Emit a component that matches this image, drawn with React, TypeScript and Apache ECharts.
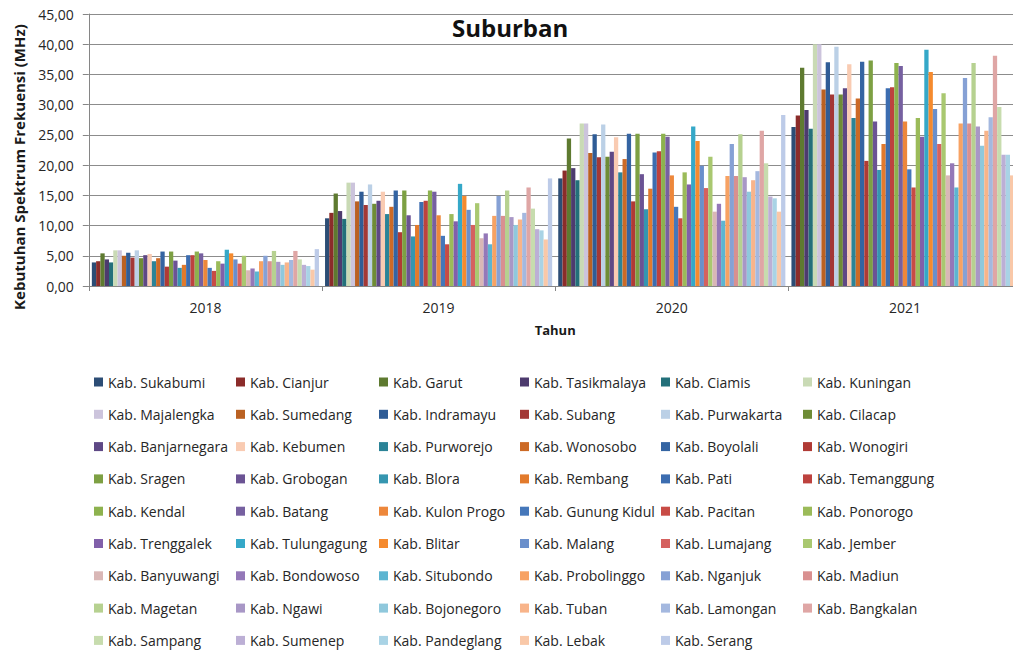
import React, { useEffect, useRef } from "react";
import * as echarts from "echarts";

const years = ["2018", "2019", "2020", "2021"];

const kabupaten = [
  "Kab. Sukabumi", "Kab. Cianjur", "Kab. Garut", "Kab. Tasikmalaya", "Kab. Ciamis", "Kab. Kuningan",
  "Kab. Majalengka", "Kab. Sumedang", "Kab. Indramayu", "Kab. Subang", "Kab. Purwakarta", "Kab. Cilacap",
  "Kab. Banjarnegara", "Kab. Kebumen", "Kab. Purworejo", "Kab. Wonosobo", "Kab. Boyolali", "Kab. Wonogiri",
  "Kab. Sragen", "Kab. Grobogan", "Kab. Blora", "Kab. Rembang", "Kab. Pati", "Kab. Temanggung",
  "Kab. Kendal", "Kab. Batang", "Kab. Kulon Progo", "Kab. Gunung Kidul", "Kab. Pacitan", "Kab. Ponorogo",
  "Kab. Trenggalek", "Kab. Tulungagung", "Kab. Blitar", "Kab. Malang", "Kab. Lumajang", "Kab. Jember",
  "Kab. Banyuwangi", "Kab. Bondowoso", "Kab. Situbondo", "Kab. Probolinggo", "Kab. Nganjuk", "Kab. Madiun",
  "Kab. Magetan", "Kab. Ngawi", "Kab. Bojonegoro", "Kab. Tuban", "Kab. Lamongan", "Kab. Bangkalan",
  "Kab. Sampang", "Kab. Sumenep", "Kab. Pandeglang", "Kab. Lebak", "Kab. Serang",
];

const v2018 = [
  3.9, 4.1, 5.4, 4.4, 3.9, 5.9, 5.9, 5.0, 5.5, 4.7, 5.9, 4.6, 5.1, 5.3, 4.1, 4.6, 5.7, 3.2,
  5.7, 4.2, 3.0, 3.5, 5.1, 5.1, 5.7, 5.4, 4.3, 3.0, 2.5, 4.1, 3.7, 6.0, 5.4, 4.4, 3.7, 5.0,
  2.6, 2.9, 2.4, 4.1, 5.0, 4.1, 5.8, 4.0, 3.5, 3.9, 4.3, 5.8, 4.4, 3.5, 3.3, 2.7, 6.1,
];
const v2019 = [
  11.2, 12.1, 15.3, 12.4, 11.1, 17.1, 17.1, 14.0, 15.6, 13.4, 16.8, 13.6, 14.1, 15.6, 11.9, 13.1, 15.8, 8.9,
  15.8, 11.7, 8.2, 10.1, 13.9, 14.1, 15.8, 15.6, 11.7, 8.3, 6.9, 11.9, 10.7, 16.9, 14.9, 12.6, 10.1, 13.7,
  7.9, 8.7, 6.9, 11.6, 14.9, 11.6, 15.8, 11.4, 10.1, 11.0, 12.1, 16.3, 12.8, 9.4, 9.2, 7.7, 17.8,
];
const v2020 = [
  17.8, 19.1, 24.4, 19.5, 17.5, 26.9, 26.9, 22.0, 25.1, 21.3, 26.7, 21.4, 22.2, 24.6, 18.8, 21.0, 25.2, 14.0,
  25.2, 18.5, 12.7, 16.1, 22.1, 22.3, 25.2, 24.7, 18.3, 13.1, 11.2, 18.8, 16.8, 26.4, 24.0, 19.9, 16.2, 21.4,
  12.3, 13.6, 10.8, 18.2, 23.5, 18.2, 25.1, 18.0, 15.6, 17.5, 19.0, 25.7, 20.3, 14.8, 14.5, 12.3, 28.3,
];
const v2021 = [
  26.3, 28.2, 36.1, 29.1, 26.0, 40.0, 40.0, 32.5, 37.0, 31.7, 39.6, 31.7, 32.7, 36.7, 27.8, 31.0, 37.1, 20.7,
  37.3, 27.2, 19.2, 23.5, 32.7, 32.9, 36.9, 36.4, 27.2, 19.3, 16.3, 27.8, 24.7, 39.1, 35.4, 29.3, 23.5, 31.9,
  18.3, 20.3, 16.3, 26.9, 34.4, 26.9, 36.9, 26.4, 23.2, 25.7, 27.9, 38.1, 29.6, 21.7, 21.7, 18.3, 41.5,
];

const palette = [
  "#2C4D75", "#8B2C2A", "#5E7A30", "#4D3B6E", "#23707A", "#C9DAB5",
  "#CCC4DC", "#BA6122", "#2F5C96", "#A33836", "#BBD0E6", "#6E8C36",
  "#5E4885", "#F9CBB2", "#2B8397", "#CC6A26", "#3464A2", "#B03A35",
  "#7DA043", "#6B5394", "#3596B0", "#E27A2C", "#3C6DB0", "#BD423E",
  "#8DB24E", "#7660A0", "#ED873B", "#4577BA", "#C84B45", "#9BBB59",
  "#8160AA", "#35A8C8", "#F58A2E", "#6A8FCB", "#D5615F", "#A9C870",
  "#D9B7B6", "#9478B8", "#5DB5D1", "#F7A263", "#86A1D5", "#D99090",
  "#B6D190", "#A897C6", "#8FC8DC", "#F8B48A", "#A4B8DF", "#DFA6A5",
  "#C7DCAE", "#BCAFD5", "#A9D3E5", "#F9C8A8", "#BDCBE8",
];

const FONT = "'Open Sans', 'Noto Sans', sans-serif";
const legendLefts = [94, 236, 379, 520, 661, 803];

export default function App() {
  const ref = useRef<HTMLDivElement>(null);
  useEffect(() => {
    if (!ref.current) return;
    const chart = echarts.init(ref.current, null, { renderer: "svg" });
    const series = kabupaten.map((name, i) => ({
      type: "bar",
      name,
      data: [v2018[i], v2019[i], v2020[i], v2021[i]],
      itemStyle: { color: palette[i] },
      barGap: "0%",
      barCategoryGap: "2.6%",
    }));
    chart.setOption({
      animation: false,
      backgroundColor: "#ffffff",
      title: {
        text: "Suburban",
        left: 452,
        top: 15,
        padding: 0,
        textStyle: { fontFamily: FONT, fontWeight: "bold", fontSize: 24, color: "#111111" },
      },
      grid: {
        left: 88.8,
        top: 14,
        width: 932.8,
        height: 272,
        outerBoundsMode: "none",
        containLabel: false,
      },
      xAxis: {
        type: "category",
        data: years,
        name: "Tahun",
        nameLocation: "middle",
        nameGap: 37,
        nameTextStyle: { fontFamily: FONT, fontWeight: "bold", fontSize: 13, color: "#1a1a1a" },
        axisLine: { lineStyle: { color: "#868686", width: 1 } },
        axisTick: { show: true, length: 5, lineStyle: { color: "#868686" } },
        axisLabel: { fontFamily: FONT, fontSize: 14, color: "#262626", margin: 14 },
      },
      yAxis: {
        type: "value",
        min: 0,
        max: 45,
        interval: 5,
        axisLine: { show: true, lineStyle: { color: "#868686", width: 1 } },
        axisTick: { show: true, length: 6, lineStyle: { color: "#868686" } },
        splitLine: { lineStyle: { color: "#8c8c8c", width: 1 } },
        axisLabel: {
          fontFamily: FONT,
          fontSize: 14,
          color: "#262626",
          margin: 15,
          formatter: (v: number) => v.toFixed(2).replace(".", ","),
        },
      },
      legend: legendLefts.map((left, c) => ({
        orient: "vertical",
        left,
        top: 375,
        height: 278,
        padding: 0,
        itemWidth: 9,
        itemHeight: 9,
        itemGap: 18.3,
        icon: "rect",
        textStyle: { fontFamily: FONT, fontSize: 14, color: "#262626", lineHeight: 14 },
        data: kabupaten.filter((_, i) => i % 6 === c),
      })),
      graphic: [
        {
          type: "text",
          x: 19,
          y: 167,
          rotation: Math.PI / 2,
          style: {
            text: "Kebutuhan Spektrum Frekuensi (MHz)",
            font: "bold 15px 'Open Sans', sans-serif",
            fill: "#1a1a1a",
            textAlign: "center",
            textVerticalAlign: "middle",
          },
        },
      ],
      series,
    });
    return () => chart.dispose();
  }, []);
  return (
    <div
      ref={ref}
      style={{ position: "absolute", left: 0, top: 0, width: 1013, height: 653 }}
    />
  );
}
